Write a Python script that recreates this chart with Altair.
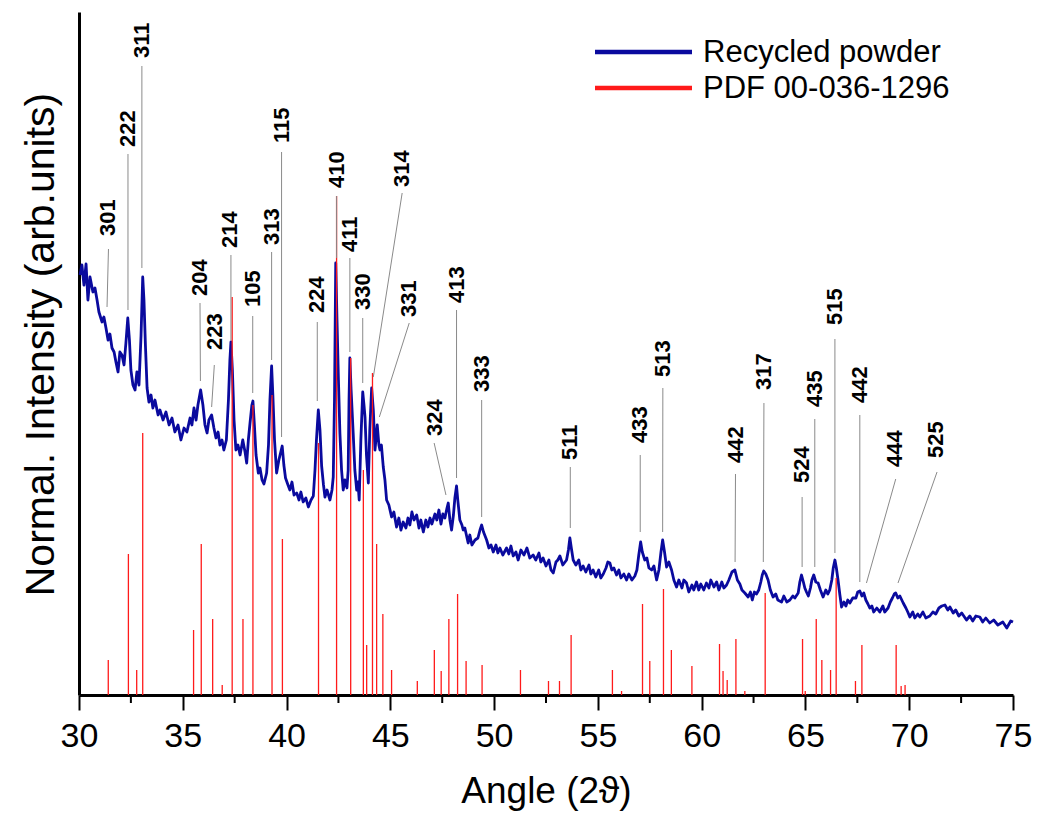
import altair as alt
import pandas as pd

# ---- measured XRD scan (2-theta in degrees, intensity in arbitrary units) ----
two_theta = [
    30.05,30.14,30.24,30.34,30.43,30.53,30.67,30.77,30.87,30.96,
    31.11,31.20,31.30,31.40,31.49,31.59,31.69,31.78,31.88,31.97,
    32.07,32.17,32.26,32.35,32.43,32.50,32.60,32.70,32.79,32.89,
    32.99,33.07,33.13,33.20,33.28,33.37,33.47,33.56,33.66,33.81,
    33.90,34.05,34.19,34.34,34.48,34.62,34.77,34.91,35.06,35.20,
    35.35,35.44,35.54,35.64,35.73,35.86,35.97,36.07,36.17,36.26,
    36.39,36.50,36.60,36.70,36.79,36.89,36.98,37.10,37.20,37.27,
    37.32,37.39,37.47,37.56,37.66,37.76,37.89,38.00,38.08,38.16,
    38.24,38.33,38.38,38.45,38.53,38.64,38.72,38.82,38.91,39.04,
    39.13,39.20,39.28,39.34,39.42,39.52,39.63,39.79,39.87,39.95,
    40.07,40.16,40.26,40.36,40.49,40.60,40.69,40.80,40.93,41.05,
    41.18,41.29,41.37,41.44,41.53,41.61,41.69,41.78,41.85,41.95,
    42.09,42.19,42.25,42.31,42.37,42.43,42.50,42.57,42.65,42.73,
    42.81,42.91,42.97,43.01,43.05,43.11,43.21,43.29,43.38,43.44,
    43.50,43.58,43.67,43.73,43.78,43.85,43.94,44.01,44.10,44.18,
    44.26,44.37,44.45,44.50,44.57,44.66,44.74,44.82,44.93,45.06,
    45.17,45.30,45.41,45.51,45.62,45.75,45.85,45.94,46.04,46.14,
    46.27,46.38,46.47,46.59,46.71,46.81,46.91,47.00,47.15,47.24,
    47.34,47.44,47.53,47.63,47.73,47.79,47.87,47.95,48.04,48.11,
    48.19,48.25,48.35,48.45,48.51,48.59,48.75,48.83,48.93,49.08,
    49.22,49.32,49.40,49.49,49.64,49.75,49.85,49.96,50.09,50.18,
    50.28,50.42,50.60,50.71,50.81,50.92,51.05,51.16,51.29,51.44,
    51.58,51.72,51.88,52.01,52.16,52.25,52.36,52.50,52.64,52.74,
    52.85,52.98,53.07,53.17,53.31,53.49,53.58,53.65,53.72,53.81,
    53.94,54.08,54.18,54.29,54.42,54.57,54.66,54.77,54.90,55.04,
    55.14,55.26,55.39,55.48,55.58,55.67,55.77,55.90,56.01,56.11,
    56.25,56.38,56.49,56.64,56.78,56.88,56.97,57.06,57.14,57.26,
    57.36,57.46,57.59,57.70,57.83,57.94,58.04,58.12,58.21,58.31,
    58.42,58.55,58.66,58.79,58.90,59.05,59.14,59.27,59.38,59.53,
    59.62,59.75,59.86,59.96,60.10,60.23,60.35,60.44,60.59,60.72,
    60.83,60.97,61.07,61.20,61.31,61.46,61.60,61.72,61.84,61.94,
    62.08,62.24,62.35,62.44,62.54,62.64,62.75,62.85,62.92,62.99,
    63.09,63.20,63.31,63.44,63.57,63.67,63.85,63.96,64.10,64.25,
    64.39,64.49,64.65,64.73,64.81,64.90,64.97,65.05,65.14,65.24,
    65.31,65.40,65.50,65.61,65.72,65.85,65.98,66.08,66.17,66.27,
    66.34,66.42,66.49,66.57,66.66,66.74,66.85,66.95,67.04,67.14,
    67.28,67.43,67.52,67.62,67.72,67.81,67.91,68.01,68.10,68.20,
    68.29,68.44,68.58,68.73,68.82,68.98,69.09,69.19,69.28,69.35,
    69.45,69.55,69.71,69.84,69.93,70.03,70.17,70.27,70.41,70.51,
    70.66,70.80,70.99,71.14,71.28,71.43,71.57,71.72,71.86,71.96,
    72.12,72.24,72.39,72.53,72.76,72.92,73.06,73.21,73.40,73.54,
    73.69,73.88,74.07,74.27,74.51,74.70,74.89,75.00,
]
intensity = [
    420,430,410,431,395,418,403,407,395,383,
    373,378,367,355,361,347,343,333,323,343,
    340,330,352,377,355,325,310,305,323,310,
    360,418,395,350,307,293,300,287,295,280,
    285,275,283,270,277,263,270,255,267,263,
    277,270,287,275,290,305,290,270,262,275,
    280,267,257,263,250,255,245,255,295,335,
    353,325,275,245,250,240,255,243,232,255,
    272,290,294,270,240,222,227,215,211,222,
    250,295,329,300,255,222,235,249,230,217,
    210,205,213,200,202,195,203,193,197,188,
    195,199,225,255,285,265,229,210,198,205,
    195,205,218,295,432,375,315,262,225,205,
    215,207,225,295,337,305,262,225,205,213,
    195,255,303,290,278,240,212,265,307,285,
    245,270,250,245,250,228,215,195,190,178,
    183,168,177,165,173,167,177,170,183,175,
    180,167,175,163,175,168,177,171,181,175,
    185,171,181,177,187,192,175,165,180,197,
    209,195,175,170,165,167,152,160,150,155,
    157,165,170,163,155,147,150,143,150,142,
    147,140,147,141,149,139,143,135,145,140,
    147,137,140,135,142,133,137,129,135,125,
    122,133,135,139,130,135,145,157,147,135,
    130,135,125,129,123,130,121,125,118,125,
    117,121,127,133,132,125,127,120,125,117,
    121,115,121,115,119,125,140,153,143,135,
    137,127,125,129,115,125,143,155,143,128,
    133,125,115,108,115,107,115,112,103,110,
    105,113,105,111,105,112,107,115,108,113,
    105,113,107,110,115,123,125,115,111,105,
    102,98,103,95,103,101,105,113,120,124,
    121,115,105,98,101,95,93,99,93,95,
    99,97,102,113,120,113,107,103,99,107,
    115,120,113,112,105,98,105,101,105,115,
    127,135,127,115,100,88,93,89,95,92,
    97,97,103,104,99,102,95,91,87,89,
    83,87,83,89,83,87,93,97,101,102,
    97,99,92,87,83,78,83,77,81,78,
    83,77,79,83,81,87,89,90,85,88,
    82,85,79,82,75,79,74,79,78,73,
    77,72,75,70,73,67,74,73,
]

# ---- reference pattern PDF 00-036-1296 (stick positions / heights) ----
pdf_pos = [31.41,32.38,32.78,33.07,35.52,35.89,36.44,36.90,37.38,37.90,
           38.38,39.30,39.80,41.54,42.41,43.09,43.70,43.86,44.14,44.34,
           44.64,45.06,46.30,47.12,47.45,47.82,48.24,48.65,49.42,51.27,
           52.62,53.15,53.71,55.70,56.14,57.15,57.50,58.16,58.54,59.53,
           60.86,61.03,61.23,61.65,62.08,63.06,64.86,64.99,65.52,65.79,
           66.21,66.48,67.41,67.72,69.37,69.61,69.80]
pdf_int = [35,141,25,262,65,151,76,10,398,76,
           290,300,156,252,499,337,225,50,322,151,
           81,25,14,45,24,76,101,34,30,25,
           14,14,60,25,4,91,34,106,45,29,
           51,24,15,56,4,102,56,4,76,35,
           25,117,14,50,50,9,10]

# ---- hkl annotations ----
hkl = ["301","222","311","204","223","214","105","313","115","224",
       "410","411","330","314","331","324","413","333","511","433",
       "513","442","317","524","435","515","442","444","525"]
label_x = [31.41,32.37,33.02,35.83,36.55,37.27,38.37,39.28,39.76,41.48,
           42.41,43.05,43.69,45.54,45.91,47.15,48.19,49.40,53.68,57.02,
           58.15,61.65,63.01,64.84,65.45,66.42,67.62,69.31,71.31]
label_y = [459,548,637,399,345,447,388,450,552,382,
           507,443,385,508,378,259,392,303,235,252,
           318,232,305,212,288,370,292,228,237]
lead_x1 = [31.42,32.36,33.03,35.83,36.52,37.32,38.37,39.28,39.76,41.48,
           42.41,43.05,43.67,45.57,45.91,47.11,48.19,49.40,53.67,57.04,
           58.13,61.63,63.00,64.84,65.45,66.42,67.62,69.35,71.34]
lead_y1 = [446,541,629,392,330,440,379,443,543,373,
           499,437,377,502,372,252,385,295,228,240,
           307,221,292,198,276,356,280,216,223]
lead_x2 = [31.35,32.36,33.03,35.85,36.39,37.32,38.37,39.28,39.76,41.48,
           42.41,43.05,43.67,44.18,44.47,47.68,48.19,49.40,53.67,57.04,
           58.12,61.61,62.97,64.84,65.45,66.42,67.62,67.94,69.46]
lead_y2 = [388,385,427,314,288,355,302,335,258,294,
           437,343,312,318,278,200,217,178,167,163,
           163,133,133,128,128,142,113,112,112]

major_ticks = [30, 35, 40, 45, 50, 55, 60, 65, 70, 75]
minor_ticks = [32.5, 37.5, 42.5, 47.5, 52.5, 57.5, 62.5, 67.5, 72.5]

series = ["Recycled powder", "PDF 00-036-1296"]
colors = ["#0a0a9e", "#ff1a1a"]

scan_df = pd.DataFrame({"x": two_theta, "y": intensity})
pdf_df = pd.DataFrame({"x": pdf_pos, "y": pdf_int})
lab_df = pd.DataFrame({"t": hkl, "x": label_x, "y": label_y})
lead_df = pd.DataFrame({"x": lead_x1, "y": lead_y1, "x2": lead_x2, "y2": lead_y2})
minor_df = pd.DataFrame({"x": minor_ticks})

W, H = 934, 683

xscale = alt.Scale(domain=[30, 75], nice=False, zero=False)
yscale = alt.Scale(domain=[0, 683], nice=False, zero=True)

xaxis = alt.Axis(
    values=major_ticks, title="Angle (2ϑ)", grid=False,
    tickSize=15, tickWidth=2, tickColor="black",
    domainWidth=3, domainColor="black",
    labelFontSize=34, labelFont="Liberation Sans", labelColor="black",
    labelPadding=9, labelFlush=False,
    titleFontSize=37, titleFont="Liberation Sans", titleFontWeight="normal",
    titleColor="black", titleY=107, titleBaseline="alphabetic",
)
yaxis = alt.Axis(
    title="Normal. Intensity (arb.units)", grid=False, ticks=False, labels=False,
    domainWidth=3, domainColor="black",
    titleFontSize=41, titleFont="Liberation Sans", titleFontWeight="normal",
    titleColor="black", titleAngle=270, titleX=-26, titleY=332,
    titleAlign="center", titleBaseline="alphabetic",
)

line = alt.Chart(scan_df).mark_line(
    strokeWidth=2.8, strokeJoin="round", color=colors[0]
).encode(
    x=alt.X("x:Q", scale=xscale, axis=xaxis),
    y=alt.Y("y:Q", scale=yscale, axis=yaxis),
)

sticks = alt.Chart(pdf_df).mark_rule(strokeWidth=1.3, color=colors[1]).encode(
    x="x:Q", y="y:Q", y2=alt.datum(0),
)

leaders = alt.Chart(lead_df).mark_rule(color="#8a8a8a", strokeWidth=1).encode(
    x="x:Q", y="y:Q", x2="x2:Q", y2="y2:Q",
)

labels = alt.Chart(lab_df).mark_text(
    angle=270, align="left", baseline="middle",
    font="Liberation Sans", fontSize=22, fontWeight="bold", color="black",
).encode(x="x:Q", y="y:Q", text="t:N")

minor = alt.Chart(minor_df).mark_rule(color="black", strokeWidth=2).encode(
    x="x:Q", y=alt.value(H), y2=alt.value(H + 8),
)

# legend key (one row of data per entry so each item is drawn once)
legend_layers = []
for i, (name, col) in enumerate(zip(series, colors)):
    yy = 40 + 36 * i
    entry = pd.DataFrame({"name": [name]})
    legend_layers.append(
        alt.Chart(entry).mark_rule(color=col, strokeWidth=4.5).encode(
            x=alt.value(516), x2=alt.value(613), y=alt.value(yy), y2=alt.value(yy)
        )
    )
    legend_layers.append(
        alt.Chart(entry).mark_text(
            align="left", baseline="middle", font="Liberation Sans", fontSize=31,
            fontWeight="normal", color="black",
        ).encode(x=alt.value(624), y=alt.value(yy + 1), text="name:N")
    )

chart = alt.layer(line, sticks, leaders, labels, minor, *legend_layers).properties(
    width=W, height=H,
    padding={"left": 71, "top": 4, "right": 20, "bottom": 116},
    autosize="none",
).configure_view(stroke=None)

chart.save("out.html", embed_options={"renderer": "svg", "actions": False})
